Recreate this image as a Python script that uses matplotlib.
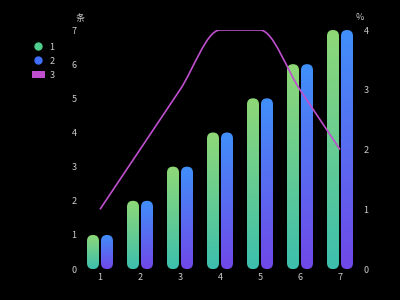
import numpy as np
import matplotlib
matplotlib.use('Agg')
import matplotlib.pyplot as plt
from matplotlib.colors import LinearSegmentedColormap
from matplotlib.patches import FancyBboxPatch, PathPatch
from matplotlib.path import Path
from matplotlib.lines import Line2D
from matplotlib.patches import Patch

plt.rcParams['font.family'] = ['Noto Sans CJK SC', 'DejaVu Sans']

categories = ['1', '2', '3', '4', '5', '6', '7']
series1 = [1, 2, 3, 4, 5, 6, 7]
series2 = [1, 2, 3, 4, 5, 6, 7]
series3 = [1, 2, 3, 4, 4, 3, 2]

bg = '#000000'
txt = '#cccccc'
line_c = '#c04fd0'
green_cmap = LinearSegmentedColormap.from_list('g', ['#3cbfae', '#8fd877'])
blue_cmap = LinearSegmentedColormap.from_list('b', ['#7048e8', '#4090fa'])

fig = plt.figure(figsize=(4, 3), dpi=100, facecolor=bg)
ax = fig.add_axes([0.2, 0.103, 0.7, 0.797])
ax.set_facecolor(bg)
ax.set_xlim(0.5, 7.5)
ax.set_ylim(0, 7)
ax2 = ax.twinx()
ax2.set_ylim(0, 4)

x = np.arange(1, len(categories) + 1)
w = 0.3
off = 0.175

# aspect to keep rounded tops circular
pw = 0.7 * 400
ph = 0.797 * 300
aspect = (7 / ph) / (7 / pw)

grad = np.linspace(0, 1, 256).reshape(-1, 1)


def capsule(xc, h, cmap):
    left = xc - w / 2
    patch = FancyBboxPatch((left, 0), w, h,
                           boxstyle='round,pad=0,rounding_size=%f' % (w / 2),
                           mutation_aspect=aspect, linewidth=0,
                           facecolor='none', transform=ax.transData)
    ax.add_patch(patch)
    im = ax.imshow(grad, cmap=cmap, origin='lower', aspect='auto',
                   extent=(left, left + w, 0, h), zorder=2)
    im.set_clip_path(patch)


for xi, v in zip(x, series1):
    capsule(xi - off, v, green_cmap)
for xi, v in zip(x, series2):
    capsule(xi + off, v, blue_cmap)
ax.set_xlim(0.5, 7.5)
ax.set_ylim(0, 7)

# smooth line (monotone cubic through the points, drawn as bezier)
ys = np.array(series3, dtype=float)
xs = x.astype(float)
d = np.diff(ys) / np.diff(xs)
m = np.zeros_like(ys)
m[0], m[-1] = d[0], d[-1]
for i in range(1, len(ys) - 1):
    m[i] = 0 if d[i - 1] * d[i] <= 0 else 2 / (1 / d[i - 1] + 1 / d[i])
verts = [(xs[0], ys[0])]
codes = [Path.MOVETO]
for i in range(len(xs) - 1):
    h = xs[i + 1] - xs[i]
    verts += [(xs[i] + h / 3, ys[i] + m[i] * h / 3),
              (xs[i + 1] - h / 3, ys[i + 1] - m[i + 1] * h / 3),
              (xs[i + 1], ys[i + 1])]
    codes += [Path.CURVE4] * 3
ax2.add_patch(PathPatch(Path(verts, codes), facecolor='none',
                        edgecolor=line_c, lw=1.2, zorder=3))

for a in (ax, ax2):
    for s in a.spines.values():
        s.set_visible(False)
    a.tick_params(length=0, colors=txt, labelsize=6.5)

ax.set_xticks(x)
ax.set_xticklabels(categories)
ax.set_yticks(range(0, 8))
ax2.set_yticks(range(0, 5))
ax.tick_params(axis='y', pad=2.5)
ax2.tick_params(axis='y', pad=2.5)
ax.tick_params(axis='x', pad=3)

fig.text(0.2, 0.94, '条', color=txt, fontsize=6.5, ha='center', va='center')
fig.text(0.9, 0.94, '%', color=txt, fontsize=6.5, ha='center', va='center')

handles = [
    Line2D([], [], marker='o', ls='none', color='#4fcf8e', markersize=5),
    Line2D([], [], marker='o', ls='none', color='#3f6ffc', markersize=5),
    Patch(facecolor=line_c, edgecolor='none'),
]
leg = fig.legend(handles, ['1', '2', '3'], loc='upper left',
                 bbox_to_anchor=(0.06, 0.885), frameon=False, fontsize=6.5,
                 labelcolor=txt, handlelength=1.4, handleheight=0.8,
                 labelspacing=0.55, handletextpad=0.5)

fig.savefig('out.png', dpi=100, facecolor=bg)
